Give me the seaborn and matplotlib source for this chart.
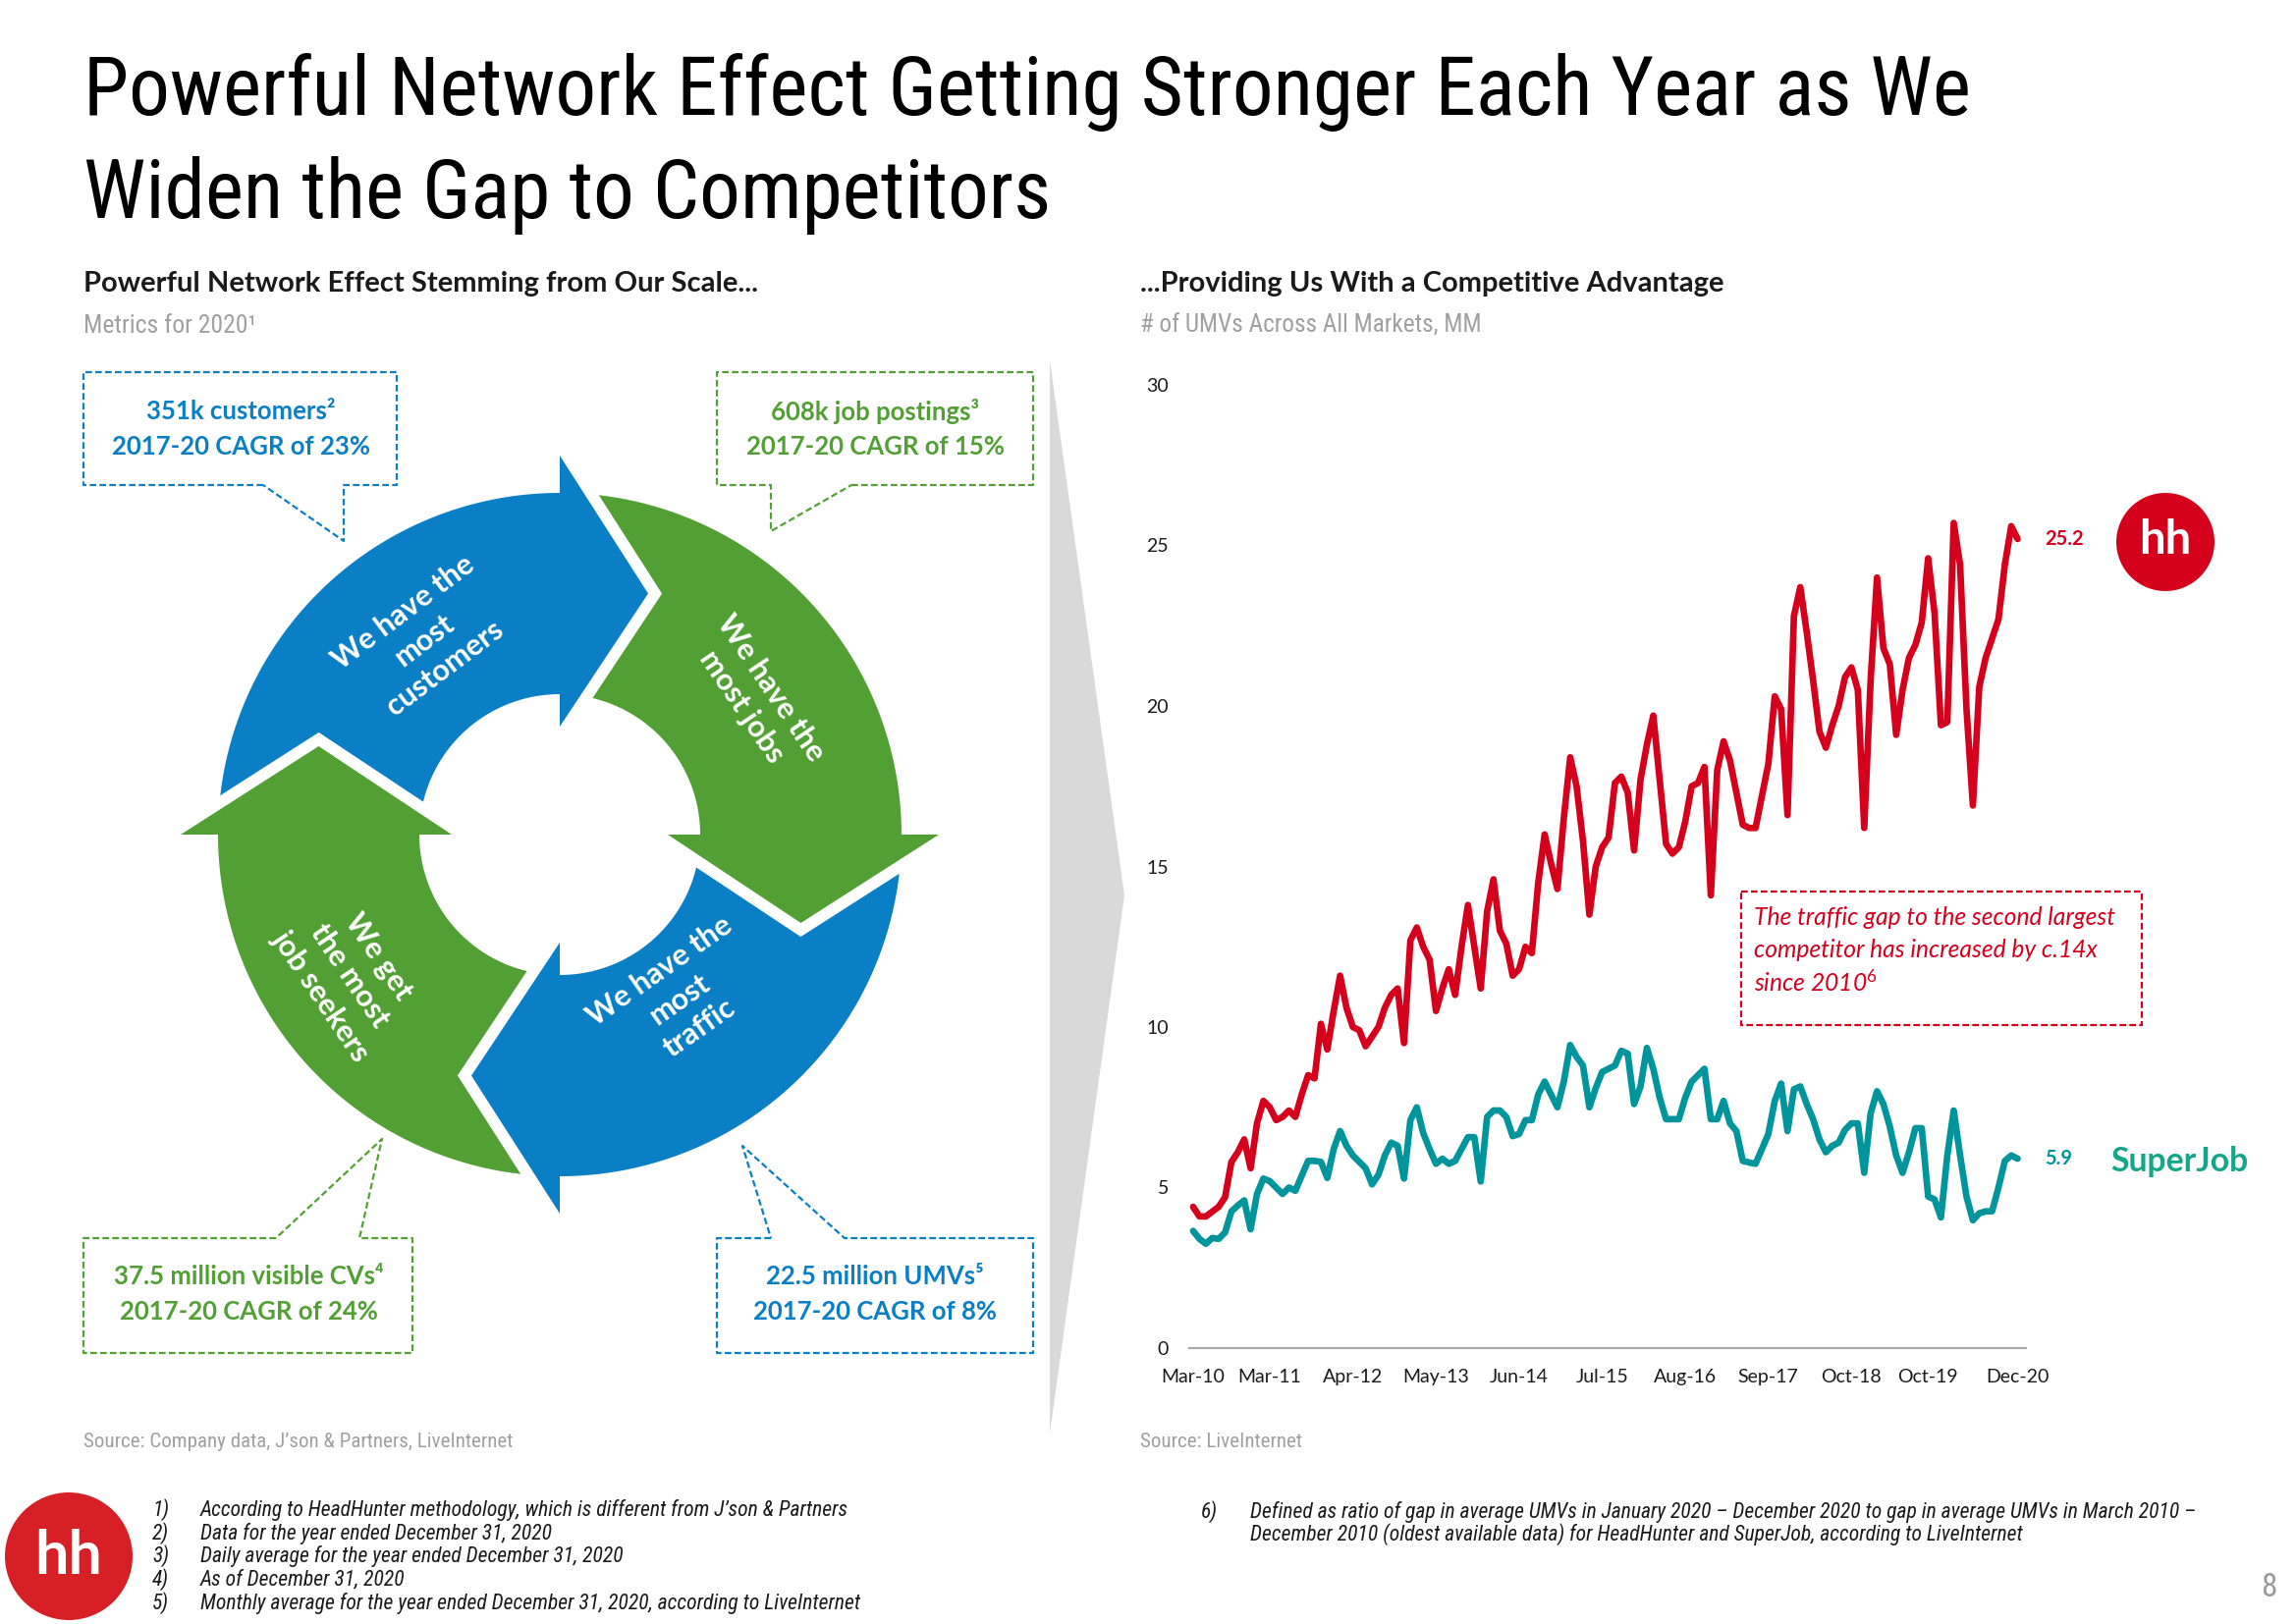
import numpy as np
import pandas as pd
import matplotlib
matplotlib.use("Agg")
import matplotlib.pyplot as plt
import seaborn as sns
from matplotlib import font_manager
from matplotlib.patches import Polygon, Rectangle, Circle

# ---------------- data ----------------
# monthly UMVs, MM, Mar-2010 .. Dec-2020
hh_umv = [4.4, 4.1, 4.1, 4.25, 4.4, 4.7, 5.8, 6.1, 6.5, 5.6,
          7.0, 7.7, 7.5, 7.1, 7.2, 7.4, 7.2, 7.9, 8.5, 8.4,
          10.1, 9.3, 10.5, 11.6, 10.6, 10.0, 9.9, 9.4, 9.7, 10.0,
          10.6, 11.0, 11.2, 9.5, 12.7, 13.1, 12.5, 12.1, 10.5, 11.2,
          11.8, 11.0, 12.5, 13.8, 12.5, 11.2, 13.6, 14.6, 13.0, 12.6,
          11.6, 11.8, 12.5, 12.3, 14.5, 16.0, 15.1, 14.3, 16.5, 18.4,
          17.5, 15.8, 13.5, 15.0, 15.6, 15.9, 17.6, 17.8, 17.3, 15.5,
          17.7, 18.8, 19.7, 17.7, 15.7, 15.4, 15.6, 16.4, 17.5, 17.6,
          18.1, 14.1, 18.0, 18.9, 18.3, 17.3, 16.3, 16.2, 16.2, 17.2,
          18.2, 20.3, 19.9, 16.6, 22.8, 23.7, 22.3, 20.8, 19.2, 18.7,
          19.4, 20.0, 20.9, 21.2, 20.5, 16.2, 20.8, 24.0, 21.8, 21.3,
          19.1, 20.5, 21.5, 21.9, 22.6, 24.6, 22.9, 19.4, 19.5, 25.7,
          24.4, 19.9, 16.9, 20.6, 21.5, 22.1, 22.7, 24.4, 25.6, 25.2]
sj_umv = [3.65, 3.4, 3.25, 3.43, 3.4, 3.6, 4.26, 4.44, 4.6, 3.7,
          4.8, 5.28, 5.2, 5.0, 4.8, 5.0, 4.9, 5.37, 5.83, 5.83,
          5.8, 5.3, 6.2, 6.76, 6.3, 6.0, 5.8, 5.6, 5.1, 5.4,
          6.0, 6.4, 6.3, 5.28, 7.1, 7.5, 6.7, 6.2, 5.74, 5.9,
          5.74, 5.83, 6.2, 6.57, 6.57, 5.19, 7.2, 7.4, 7.4, 7.2,
          6.6, 6.67, 7.1, 7.1, 7.9, 8.3, 7.9, 7.5, 8.3, 9.44,
          9.07, 8.8, 7.5, 8.1, 8.6, 8.7, 8.8, 9.26, 9.17, 7.6,
          8.15, 9.35, 8.7, 7.8, 7.13, 7.13, 7.13, 7.8, 8.3, 8.5,
          8.7, 7.13, 7.13, 7.7, 7.0, 6.76, 5.83, 5.78, 5.74, 6.2,
          6.67, 7.7, 8.24, 6.76, 8.06, 8.15, 7.6, 7.13, 6.5, 6.1,
          6.3, 6.4, 6.8, 7.0, 7.0, 5.46, 7.31, 8.0, 7.6, 6.9,
          6.0, 5.46, 6.1, 6.85, 6.85, 4.72, 4.63, 4.07, 6.0, 7.4,
          6.0, 4.72, 3.98, 4.2, 4.26, 4.26, 5.0, 5.83, 6.0, 5.9]
months = pd.period_range("2010-03", "2020-12", freq="M")
tick_labels = ["Mar-10", "Mar-11", "Apr-12", "May-13", "Jun-14", "Jul-15",
               "Aug-16", "Sep-17", "Oct-18", "Oct-19", "Dec-20"]
y_ticks = [0, 5, 10, 15, 20, 25, 30]

arrow_texts = ["We have the\nmost\ncustomers", "We have the\nmost jobs",
               "We have the\nmost\ntraffic", "We get\nthe most\njob seekers"]
callout_texts = [("351k customers²", "2017-20 CAGR of 23%"),
                 ("608k job postings³", "2017-20 CAGR of 15%"),
                 ("37.5 million visible CVs⁴", "2017-20 CAGR of 24%"),
                 ("22.5 million UMVs⁵", "2017-20 CAGR of 8%")]
gap_note = ["The traffic gap to the second largest",
            "competitor has increased by c.14x", r"since 2010$^{6}$"]
footnotes = ["According to HeadHunter methodology, which is different from J’son & Partners",
             "Data for the year ended December 31, 2020",
             "Daily average for the year ended December 31, 2020",
             "As of December 31, 2020",
             "Monthly average for the year ended December 31, 2020, according to LiveInternet"]
footnote6 = ["Defined as ratio of gap in average UMVs in January 2020 – December 2020 to gap in average UMVs in March 2010 –",
             "December 2010 (oldest available data) for HeadHunter and SuperJob, according to LiveInternet"]

RED = "#D5001C"
TEAL = "#00959C"
BLUE = "#0A7FC6"
GREEN = "#52A034"
SJ_GREEN = "#14A689"
GREY = "#A0A0A0"

# ---------------- fonts ----------------
sns.set_style("white")
names = {f.name for f in font_manager.fontManager.ttflist}


def narrow_font():
    for n in ["Roboto Condensed", "Liberation Sans Narrow", "Open Sans Condensed", "Noto Sans Condensed"]:
        if n in names:
            return dict(family=[n, "DejaVu Sans"])
    for f in font_manager.fontManager.ttflist:
        if f.name == "DejaVu Sans" and "condensed" in str(f.stretch):
            return dict(family=["DejaVu Sans"], stretch="condensed")
    return dict(family=["Roboto", "DejaVu Sans"])


NARROW = narrow_font()
BODY = ["Lato", "DejaVu Sans"]
plt.rcParams["font.family"] = BODY
plt.rcParams["mathtext.fontset"] = "custom"
plt.rcParams["mathtext.it"] = "Lato:italic"
plt.rcParams["mathtext.rm"] = "Lato"

W, H = 2338, 1654
fig = plt.figure(figsize=(W / 100, H / 100), dpi=100)
renderer = fig.canvas.get_renderer()

# background axes in pixel coordinates (y down)
bg = fig.add_axes([0, 0, 1, 1])
bg.set_xlim(0, W)
bg.set_ylim(H, 0)
bg.axis("off")


def label(x, y, s, size, fit_w=None, font=None, **kw):
    font = font or dict(family=BODY)
    t = bg.text(x, y, s, fontsize=size, **font, **kw)
    if fit_w:
        w = t.get_window_extent(renderer).width
        t.set_fontsize(size * fit_w / w)
    return t


# ---------------- titles ----------------
t1 = label(85, 117, "Powerful Network Effect Getting Stronger Each Year as We", 60,
           fit_w=1923, font=NARROW, va="baseline", color="black")
label(85, 222, "Widen the Gap to Competitors", t1.get_fontsize(), font=NARROW,
      va="baseline", color="black")

label(85, 289, "Powerful Network Effect Stemming from Our Scale...", 20, fit_w=686,
      va="center", fontweight="bold", color="#1a1a1a")
label(85, 332, "Metrics for 2020¹", 16, fit_w=176, font=NARROW, va="center", color=GREY)
label(1161, 289, "...Providing Us With a Competitive Advantage", 20, fit_w=595,
      va="center", fontweight="bold", color="#1a1a1a")
label(1161, 332, "# of UMVs Across All Markets, MM", 16, fit_w=349, font=NARROW,
      va="center", color=GREY)

# ---------------- cycle diagram ----------------
CX, CY = 570, 850
R_OUT, R_IN = 348, 143
R_MID = (R_OUT + R_IN) / 2
WING_OUT, WING_IN, HEAD = 386, 110, 90


def pt(theta, r):
    t = np.radians(theta)
    return CX + r * np.sin(t), CY - r * np.cos(t)


arrows = [(0, BLUE), (90, GREEN), (180, BLUE), (270, GREEN)]
for base, col in arrows:
    th = np.linspace(base - 90, base, 80)
    ox, oy = pt(th, R_OUT)
    ix, iy = pt(th[::-1], R_IN)
    bg.add_patch(Polygon(np.column_stack([np.r_[ox, ix], np.r_[oy, iy]]),
                         closed=True, fc=col, ec="none", zorder=1))
for base, col in arrows:
    t = np.radians(base)
    mx, my = pt(base, R_MID)
    tip = (mx + HEAD * np.cos(t), my + HEAD * np.sin(t))
    wo, wi = pt(base, WING_OUT), pt(base, WING_IN)
    bg.plot([wo[0], tip[0], wi[0]], [wo[1], tip[1], wi[1]], color="white", lw=17,
            solid_joinstyle="miter", solid_capstyle="butt", zorder=2)
    bg.add_patch(Polygon([wo, tip, wi], closed=True, fc=col, ec="none", zorder=3))

arrow_pos = [(432, 652, 37), (770, 710, -56), (692, 1018, 35), (356, 994, -56)]
for s, (x, y, rot) in zip(arrow_texts, arrow_pos):
    bg.text(x, y, s, fontsize=22, fontweight="bold", color="white", ha="center",
            va="center", rotation=rot, rotation_mode="anchor", linespacing=1.3, zorder=4)

# dashed callouts with pointers
callout_paths = [
    [(268, 494), (85, 494), (85, 379), (404, 379), (404, 494), (350, 494), (350, 551), (268, 494)],
    [(867, 494), (1052, 494), (1052, 379), (730, 379), (730, 494), (785, 494), (785, 541), (867, 494)],
    [(281, 1261), (85, 1261), (85, 1378), (420, 1378), (420, 1261), (366, 1261), (389, 1160), (281, 1261)],
    [(785, 1261), (730, 1261), (730, 1378), (1052, 1378), (1052, 1261), (860, 1261), (756, 1167), (785, 1261)],
]
callout_centers = [(245, 419), (891, 419), (253, 1300), (891, 1300)]
callout_cols = [BLUE, GREEN, GREEN, BLUE]
for path, (cx, cy), col, (l1, l2) in zip(callout_paths, callout_centers, callout_cols, callout_texts):
    xs, ys = zip(*path)
    bg.plot(xs, ys, color=col, lw=1.6, linestyle=(0, (3, 1.5)), zorder=2)
    label(cx, cy, l1, 18.5, ha="center", va="center", fontweight="bold", color=col)
    label(cx, cy + 36, l2, 18.5, ha="center", va="center", fontweight="bold", color=col)

# grey chevron separator
bg.add_patch(Polygon([(1069, 367), (1145, 912), (1069, 1460)], closed=True,
                     fc="#D9D9D9", ec="none", zorder=1))

# ---------------- line chart ----------------
ax = fig.add_axes([1211 / W, (H - 1373) / H, (2063 - 1211) / W, (1373 - 392) / H])
ax.patch.set_alpha(0)
df = pd.DataFrame({
    "idx": np.r_[np.arange(len(months)), np.arange(len(months))],
    "umv": hh_umv + sj_umv,
    "site": ["hh"] * len(hh_umv) + ["sj"] * len(sj_umv),
})
sns.lineplot(data=df, x="idx", y="umv", hue="site", palette={"hh": RED, "sj": TEAL},
             linewidth=4.8, legend=False, ax=ax)
for ln in ax.lines:
    ln.set_solid_joinstyle("round")
    ln.set_solid_capstyle("round")

month_labels = list(months.strftime("%b-%y"))
ax.set_xticks([month_labels.index(t) for t in tick_labels])
ax.set_xticklabels(tick_labels)
ax.set_yticks(y_ticks)
ax.set_xlim(-0.6, 130.3)
ax.set_ylim(0, 30)
ax.set_xlabel("")
ax.set_ylabel("")
sns.despine(ax=ax, left=True)
ax.spines["bottom"].set_color("#A6A6A6")
ax.spines["bottom"].set_linewidth(1.5)
ax.tick_params(axis="both", length=0, labelsize=14, colors="#1a1a1a")
ax.tick_params(axis="y", pad=15)
ax.tick_params(axis="x", pad=15)

ax.annotate(f"{hh_umv[-1]:.1f}", xy=(len(hh_umv) - 1, hh_umv[-1]), xytext=(20, 0),
            textcoords="offset points", color=RED, fontsize=14.5, fontweight="bold",
            va="center", ha="left", annotation_clip=False)
ax.annotate(f"{sj_umv[-1]:.1f}", xy=(len(sj_umv) - 1, sj_umv[-1]), xytext=(20, 0),
            textcoords="offset points", color=TEAL, fontsize=14.5, fontweight="bold",
            va="center", ha="left", annotation_clip=False)

# logos next to the end labels
bg.add_patch(Circle((2205, 552), 50, fc=RED, ec="none", zorder=2))
bg.text(2205, 550, "hh", fontsize=34, fontweight="bold", color="white",
        ha="center", va="center", zorder=3)
label(2149, 1183, "SuperJob", 21, fit_w=140, va="center", fontweight="bold", color=SJ_GREEN)

# gap annotation box
bg.add_patch(Rectangle((1773, 908), 408, 136, fill=False, ec=RED, lw=1.6,
                       linestyle=(0, (3, 1.5)), zorder=2))
g0 = label(1786, 935, gap_note[0], 16, fit_w=368, va="center", style="italic", color=RED)
for i, s in enumerate(gap_note[1:], start=1):
    label(1786, 935 + 32.5 * i, s, g0.get_fontsize(), va="center", style="italic", color=RED)

# ---------------- sources & footnotes ----------------
src = label(85, 1469, "Source: Company data, J’son & Partners, LiveInternet", 14, fit_w=440,
            font=NARROW, va="center", color=GREY)
label(1161, 1469, "Source: LiveInternet", src.get_fontsize(), font=NARROW, va="center", color=GREY)

fn_y = [1538, 1562, 1585, 1609, 1633]
f0 = label(204, fn_y[0], footnotes[0], 13, fit_w=660, font=NARROW, va="center",
           style="italic", color="#1a1a1a")
for i, (y, s) in enumerate(zip(fn_y, footnotes)):
    label(155, y, f"{i + 1})", f0.get_fontsize(), font=NARROW, va="center", style="italic", color="#1a1a1a")
    if i:
        label(204, y, s, f0.get_fontsize(), font=NARROW, va="center", style="italic", color="#1a1a1a")
label(1223, 1540, "6)", f0.get_fontsize(), font=NARROW, va="center", style="italic", color="#1a1a1a")
for y, s in zip([1540, 1563], footnote6):
    label(1273, y, s, f0.get_fontsize(), font=NARROW, va="center", style="italic", color="#1a1a1a")

label(2318, 1617, "8", 24, font=NARROW, ha="right", va="center", color="#9A9A9A")

# hh logo bottom-left
bg.add_patch(Circle((70, 1585), 65, fc="#D71F26", ec="none", zorder=2))
bg.text(70, 1585, "hh", fontsize=44, fontweight="bold", color="white",
        ha="center", va="center", zorder=3)

fig.savefig("out.png", dpi=100, facecolor="white")
